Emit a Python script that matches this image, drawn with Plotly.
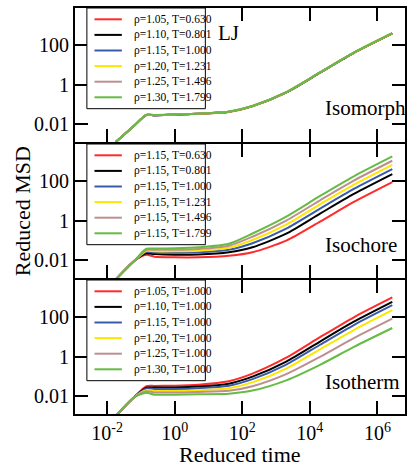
import plotly.graph_objects as go
from plotly.subplots import make_subplots

# ---------------- data ----------------
time = [0.018, 0.063, 0.145, 0.25, 1, 5, 40, 200, 2000, 2e4, 2e5, 2.75e6]

colors = ["#ff2a2a", "#000000", "#3a5aaa", "#ffe600", "#bc8f8f", "#66bb44"]

# Isomorph (LJ)
isomorph_rho = [1.05, 1.10, 1.15, 1.20, 1.25, 1.30]
isomorph_T = [0.630, 0.801, 1.000, 1.231, 1.496, 1.799]
isomorph_r105 = [0.00117, 0.00794, 0.0280, 0.0272, 0.0292, 0.0320, 0.0400, 0.0780, 0.390, 3.98, 40.9, 398]
isomorph_r110 = [0.00117, 0.00794, 0.0281, 0.0274, 0.0294, 0.0322, 0.0404, 0.0788, 0.394, 4.02, 41.3, 403]
isomorph_r115 = [0.00117, 0.00794, 0.0282, 0.0275, 0.0295, 0.0324, 0.0407, 0.0794, 0.398, 4.07, 41.7, 407]
isomorph_r120 = [0.00117, 0.00794, 0.0283, 0.0276, 0.0296, 0.0325, 0.0409, 0.0798, 0.401, 4.10, 42.0, 410]
isomorph_r125 = [0.00117, 0.00794, 0.0284, 0.0277, 0.0297, 0.0326, 0.0411, 0.0802, 0.403, 4.12, 42.2, 412]
isomorph_r130 = [0.00117, 0.00794, 0.0284, 0.0278, 0.0298, 0.0327, 0.0412, 0.0805, 0.405, 4.14, 42.4, 414]

# Isochore (rho = 1.15)
isochore_rho = [1.15, 1.15, 1.15, 1.15, 1.15, 1.15]
isochore_T = [0.630, 0.801, 1.000, 1.231, 1.496, 1.799]
isochore_T0630 = [0.00099, 0.00857, 0.0178, 0.0144, 0.0133, 0.0133, 0.0159, 0.0240, 0.0936, 0.870, 8.79, 90.3]
isochore_T0801 = [0.00099, 0.00857, 0.0213, 0.0194, 0.0179, 0.0185, 0.0240, 0.0432, 0.214, 2.24, 22.6, 232]
isochore_T1000 = [0.00099, 0.00857, 0.0254, 0.0231, 0.0226, 0.0239, 0.0322, 0.0693, 0.385, 4.03, 40.7, 418]
isochore_T1231 = [0.00099, 0.00857, 0.0286, 0.0269, 0.0270, 0.0288, 0.0408, 0.102, 0.617, 6.69, 67.6, 694]
isochore_T1496 = [0.00099, 0.00857, 0.0322, 0.0321, 0.0322, 0.0353, 0.0516, 0.149, 0.988, 10.7, 108, 1111]
isochore_T1799 = [0.00099, 0.00857, 0.0362, 0.0370, 0.0384, 0.0431, 0.0653, 0.217, 1.58, 17.8, 179, 1843]

# Isotherm (T = 1.000)
isotherm_rho = [1.05, 1.10, 1.15, 1.20, 1.25, 1.30]
isotherm_T = [1.000, 1.000, 1.000, 1.000, 1.000, 1.000]
isotherm_r105 = [0.000942, 0.00838, 0.0307, 0.0318, 0.0326, 0.0367, 0.0554, 0.134, 0.867, 9.63, 99.8, 1021]
isotherm_r110 = [0.000942, 0.00838, 0.0258, 0.0260, 0.0264, 0.0293, 0.0413, 0.0942, 0.554, 5.80, 59.4, 608]
isotherm_r115 = [0.000942, 0.00838, 0.0229, 0.0223, 0.0221, 0.0243, 0.0326, 0.0702, 0.389, 3.98, 40.3, 412]
isotherm_r120 = [0.000942, 0.00838, 0.0192, 0.0176, 0.0175, 0.0188, 0.0243, 0.0482, 0.243, 2.32, 22.4, 229]
isotherm_r125 = [0.000942, 0.00838, 0.0171, 0.0148, 0.0146, 0.0157, 0.0181, 0.0307, 0.127, 0.967, 8.70, 86.1]
isotherm_r130 = [0.000942, 0.00838, 0.0143, 0.0114, 0.0113, 0.0120, 0.0127, 0.0183, 0.0611, 0.377, 3.09, 28.4]

panel_names = ["Isomorph", "Isochore", "Isotherm"]
x_tickvals = [0.01, 1, 100, 1e4, 1e6]
x_ticktext = ["10<sup>-2</sup>", "10<sup>0</sup>", "10<sup>2</sup>", "10<sup>4</sup>", "10<sup>6</sup>"]
y_tickvals = [0.01, 1, 100]
y_ticktext = ["0.01", "1", "100"]

panels = [
    (isomorph_rho, isomorph_T, [isomorph_r105, isomorph_r110, isomorph_r115,
                                isomorph_r120, isomorph_r125, isomorph_r130]),
    (isochore_rho, isochore_T, [isochore_T0630, isochore_T0801, isochore_T1000,
                                isochore_T1231, isochore_T1496, isochore_T1799]),
    (isotherm_rho, isotherm_T, [isotherm_r105, isotherm_r110, isotherm_r115,
                                isotherm_r120, isotherm_r125, isotherm_r130]),
]

FONT = "Liberation Serif, Times New Roman, serif"

# layout geometry (pixels)
W, H = 409, 468
ML, MR, MT, MB = 75, 2, 8, 54
plot_h = H - MT - MB
gap = 2.0 / plot_h
ph = (1 - 2 * gap) / 3
panel_px = ph * plot_h
domains = [[1 - ph, 1], [ph + gap, 1 - ph - gap], [0, ph]]

fig = make_subplots(rows=3, cols=1, shared_xaxes=True, vertical_spacing=0)

shapes = []
annotations = []
for p, (rhos, Ts, series) in enumerate(panels):
    row = p + 1
    sfx = "" if row == 1 else str(row)
    shapes.append(dict(type="rect", xref=f"x{sfx} domain", yref=f"y{sfx} domain",
                       x0=0.036, x1=0.395, y0=1 - 100.7 / panel_px, y1=1,
                       line=dict(color="black", width=1), fillcolor="white", layer="above"))
    for i, (rho, T, msd) in enumerate(zip(rhos, Ts, series)):
        label = f"ρ={rho:.2f}, T={T:.3f}"
        fig.add_trace(go.Scatter(x=time, y=msd, mode="lines", name=label,
                                 line=dict(color=colors[i], width=2, shape="spline", smoothing=0.7),
                                 showlegend=False), row=row, col=1)
        # legend entry (drawn manually to match the compact legend box)
        yy = 1 - (11.3 + 15.6 * i) / panel_px
        shapes.append(dict(type="line", xref=f"x{sfx} domain", yref=f"y{sfx} domain",
                           x0=0.059, x1=0.142, y0=yy, y1=yy,
                           line=dict(color=colors[i], width=2)))
        annotations.append(dict(xref=f"x{sfx} domain", yref=f"y{sfx} domain",
                                x=0.172, y=yy, text=label, showarrow=False,
                                xanchor="left", yanchor="middle",
                                font=dict(family=FONT, size=11.5, color="black")))
    annotations.append(dict(xref=f"x{sfx} domain", yref=f"y{sfx} domain",
                            x=0.753, y=[0.254, 0.246, 0.241][p], text=panel_names[p],
                            showarrow=False, xanchor="left", yanchor="middle",
                            font=dict(family=FONT, size=21, color="black")))

annotations.append(dict(xref="x domain", yref="y domain", x=0.428, y=0.813, text="LJ",
                        showarrow=False, xanchor="left", yanchor="middle",
                        font=dict(family=FONT, size=21, color="black")))
annotations.append(dict(xref="paper", yref="paper", x=0.5, y=-0.1, text="Reduced time",
                        showarrow=False, xanchor="center", yanchor="middle",
                        font=dict(family=FONT, size=22, color="black")))
annotations.append(dict(xref="paper", yref="paper", x=-0.16, y=0.5, text="Reduced MSD",
                        textangle=-90, showarrow=False, xanchor="center", yanchor="middle",
                        font=dict(family=FONT, size=22, color="black")))

axis_common = dict(showline=True, linecolor="black", linewidth=2, mirror="ticks",
                   ticks="inside", ticklen=13, tickwidth=2, tickcolor="black",
                   showgrid=False, zeroline=False,
                   tickfont=dict(family=FONT, size=20, color="black"))

for row in range(1, 4):
    fig.update_xaxes(type="log", range=[-2.95, 6.815], tickmode="array",
                     tickvals=x_tickvals, ticktext=x_ticktext,
                     showticklabels=(row == 3), row=row, col=1, **axis_common)
    fig.update_yaxes(type="log", range=[-2.93, 3.9], tickmode="array",
                     tickvals=y_tickvals, ticktext=y_ticktext, domain=domains[row - 1],
                     row=row, col=1, **axis_common)

fig.update_layout(width=W, height=H,
                  margin=dict(l=ML, r=MR, t=MT, b=MB),
                  plot_bgcolor="white", paper_bgcolor="white",
                  shapes=shapes, annotations=annotations,
                  font=dict(family=FONT, color="black"))

fig.write_html("out.html")
